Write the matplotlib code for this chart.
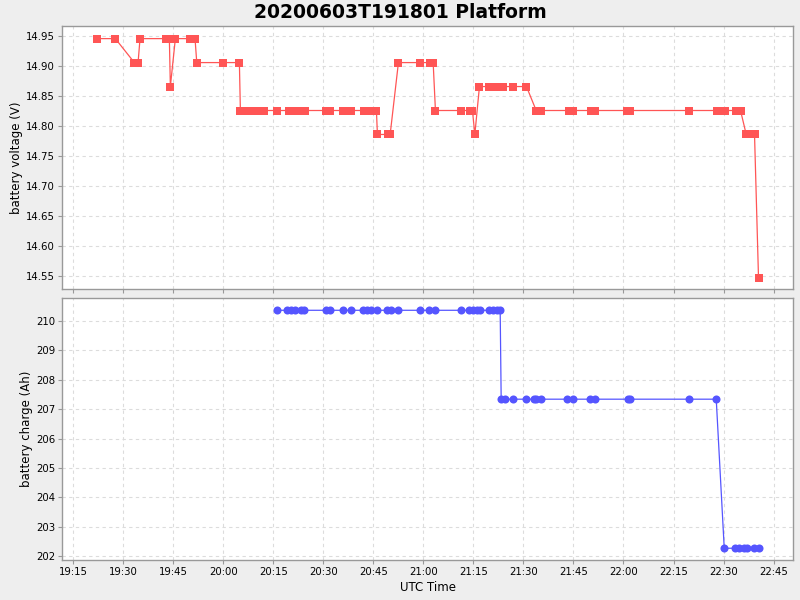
import pandas as pd
import matplotlib
matplotlib.use("Agg")
import matplotlib.pyplot as plt
import matplotlib.dates as mdates

# battery voltage samples (UTC time, V)
volt_times = ["19:22:00", "19:27:36", "19:33:18", "19:34:25", "19:35:00", "19:42:43",
              "19:43:48", "19:44:06", "19:45:36", "19:49:55", "19:51:30", "19:52:01",
              "20:00:00", "20:04:48", "20:05:06", "20:06:13", "20:07:25", "20:08:37",
              "20:09:54", "20:12:18", "20:16:12", "20:19:43", "20:20:55", "20:22:07",
              "20:23:19", "20:24:25", "20:30:54", "20:32:00", "20:36:00", "20:38:24",
              "20:42:07", "20:43:30", "20:44:49", "20:45:54", "20:46:12", "20:49:19",
              "20:50:01", "20:52:30", "20:59:06", "21:01:55", "21:02:55", "21:03:36",
              "21:11:24", "21:13:55", "21:14:42", "21:15:25", "21:16:48", "21:19:37",
              "21:21:00", "21:22:30", "21:23:55", "21:27:00", "21:30:54", "21:33:49",
              "21:35:24", "21:43:37", "21:45:00", "21:50:13", "21:51:36", "22:01:01",
              "22:02:01", "22:19:30", "22:27:54", "22:30:18", "22:33:43", "22:35:06",
              "22:36:49", "22:38:01", "22:39:18", "22:40:30"]
volt_values = [14.946, 14.946, 14.906, 14.906, 14.946, 14.946, 14.946, 14.866, 14.946,
               14.946, 14.946, 14.906, 14.906, 14.906, 14.826, 14.826, 14.826, 14.826,
               14.826, 14.826, 14.826, 14.826, 14.826, 14.826, 14.826, 14.826, 14.826,
               14.826, 14.826, 14.826, 14.826, 14.826, 14.826, 14.826, 14.786, 14.786,
               14.786, 14.906, 14.906, 14.906, 14.906, 14.826, 14.826, 14.826, 14.826,
               14.786, 14.866, 14.866, 14.866, 14.866, 14.866, 14.866, 14.866, 14.826,
               14.826, 14.826, 14.826, 14.826, 14.826, 14.826, 14.826, 14.826, 14.826,
               14.826, 14.826, 14.826, 14.786, 14.786, 14.786, 14.546]

# battery charge samples (UTC time, Ah)
charge_times = ["20:16:12", "20:19:12", "20:20:13", "20:21:25", "20:23:13", "20:24:13",
                "20:30:43", "20:32:06", "20:36:00", "20:38:24", "20:42:00", "20:43:12",
                "20:44:24", "20:46:01", "20:49:12", "20:50:24", "20:52:30", "20:59:06",
                "21:01:48", "21:03:31", "21:11:19", "21:13:48", "21:15:00", "21:16:12",
                "21:17:01", "21:19:48", "21:21:00", "21:22:12", "21:23:01", "21:23:19",
                "21:24:31", "21:27:00", "21:30:54", "21:33:13", "21:33:49", "21:35:24",
                "21:43:12", "21:45:00", "21:50:01", "21:51:31", "22:01:19", "22:01:55",
                "22:19:30", "22:27:49", "22:30:13", "22:33:31", "22:34:30", "22:36:00",
                "22:37:01", "22:39:13", "22:40:30"]
charge_values = [210.37] * 29 + [207.34] * 15 + [202.26] * 7

day = "2020-06-03 "
vt = pd.to_datetime([day + t for t in volt_times])
ct = pd.to_datetime([day + t for t in charge_times])

bg = "#eeeeee"
fig = plt.figure(figsize=(8, 6), dpi=100, facecolor=bg)
ax1 = fig.add_axes([0.0775, 0.5183, 0.914, 0.4383])
ax2 = fig.add_axes([0.0775, 0.0667, 0.914, 0.4367], sharex=ax1)

ax1.plot(vt, volt_values, color="#ff5555", lw=0.9, marker="s", ms=5.6, mew=0)
ax2.plot(ct, charge_values, color="#5555ff", lw=0.9, marker="o", ms=5.8, mew=0)

ax1.set_ylim(14.528, 14.967)
ax1.set_yticks([14.55, 14.60, 14.65, 14.70, 14.75, 14.80, 14.85, 14.90, 14.95])
ax1.yaxis.set_major_formatter(plt.FormatStrFormatter("%.2f"))
ax2.set_ylim(201.86, 210.79)
ax2.set_yticks(range(202, 211))

ax1.set_xlim(pd.Timestamp(day + "19:11:36"), pd.Timestamp(day + "22:50:54"))
ax2.xaxis.set_major_locator(mdates.MinuteLocator(byminute=[0, 15, 30, 45]))
ax2.xaxis.set_major_formatter(mdates.DateFormatter("%H:%M"))
plt.setp(ax1.get_xticklabels(), visible=False)
ax1.tick_params(axis="x", length=0)

for ax in (ax1, ax2):
    ax.set_facecolor("white")
    ax.grid(True, color="#dcdcdc", lw=0.8, ls=(0, (3, 3)))
    ax.set_axisbelow(True)
    for s in ax.spines.values():
        s.set_color("#999999")
        s.set_linewidth(1.0)
    ax.tick_params(labelsize=7.3, color="#999999", length=3, width=0.8, pad=2)

ax1.set_ylabel("battery voltage (V)", fontsize=8.5, labelpad=2)
ax2.set_ylabel("battery charge (Ah)", fontsize=8.5, labelpad=2)
ax2.set_xlabel("UTC Time", fontsize=8.5, labelpad=3)
fig.suptitle("20200603T191801 Platform", fontsize=13.5, fontweight="bold", y=0.995)

fig.savefig("out.png", dpi=100, facecolor=bg)
